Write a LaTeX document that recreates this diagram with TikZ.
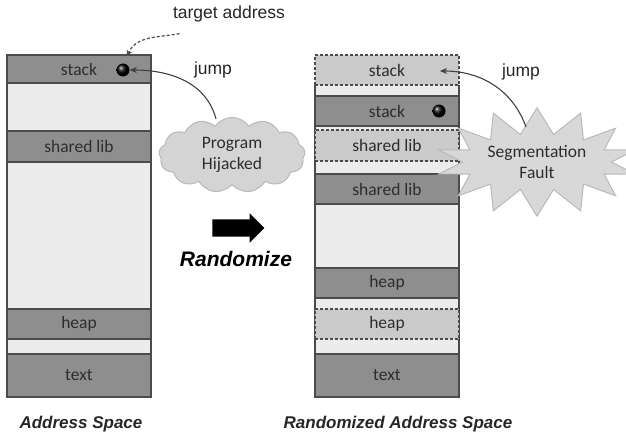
\documentclass[tikz,border=0pt]{standalone}
\usepackage{fontspec}
\setmainfont{Carlito}
\newfontfamily\arialfont{Liberation Sans}
\usepackage{tikz}
\usetikzlibrary{arrows.meta,shapes.symbols,shapes.arrows}
\definecolor{segdark}{RGB}{142,142,142}
\definecolor{seglight}{RGB}{236,236,236}
\definecolor{segmoved}{RGB}{202,202,202}
\definecolor{segline}{RGB}{75,75,75}
\definecolor{segtext}{RGB}{45,45,45}
\definecolor{cloudgray}{RGB}{212,212,212}
\definecolor{cloudline}{RGB}{185,185,185}

\begin{document}
\begin{tikzpicture}[x=1pt,y=-1pt,
  col/.style={fill=seglight, draw=segline, line width=1.2pt, anchor=north west,
    minimum width=144pt, minimum height=342pt, inner sep=0pt, outer sep=0pt},
  seg/.style={draw=segline, line width=1.2pt, anchor=north west, minimum width=144pt,
    inner sep=0pt, outer sep=0pt, text=segtext, font=\fontsize{17.5}{19}\selectfont},
  used/.style={seg, fill=segdark},
  moved/.style={seg, fill=segmoved, dash pattern=on 3pt off 2pt},
  dot/.style={circle, shade, ball color=black, minimum size=13pt, inner sep=0pt},
  note/.style={font=\arialfont\fontsize{17.5}{19}\selectfont, text=black!85},
  caption/.style={font=\arialfont\bfseries\itshape\fontsize{17}{19}\selectfont, text=black!85},
  jumparrow/.style={draw=black!75, line width=1.1pt, -{Stealth[length=7pt,width=6pt]}}]
  \useasboundingbox (0,0) rectangle (626,436);
  % original layout
  \node[col] (colL) at (7,55) {};
  \node[used, minimum height=28pt] (stackL) at (7,55) {stack};
  \node[used, minimum height=31pt] (libL) at (7,131) {shared lib};
  \node[used, minimum height=30pt] (heapL) at (7,309) {heap};
  \node[used, minimum height=43pt] (textL) at (7,354) {text};
  \node[dot] (dotL) at (123,70) {};
  % randomized layout
  \node[col, draw=none] (colR) at (315,55) {};
  \draw[segline, line width=1.2pt] ([yshift=-30pt]colR.north west) -- (colR.south west)
    -- (colR.south east) -- ([yshift=-30pt]colR.north east);
  \node[moved, minimum height=30pt] (stackOld) at (315,55) {stack};
  \node[used, minimum height=30pt] (stackR) at (315,96) {stack};
  \node[moved, minimum height=31pt] (libOld) at (315,130) {shared lib};
  \node[used, minimum height=30pt] (libR) at (315,174) {shared lib};
  \node[used, minimum height=30pt] (heapR) at (315,268) {heap};
  \node[moved, minimum height=30pt] (heapOld) at (315,309) {heap};
  \node[used, minimum height=43pt] (textR) at (315,354) {text};
  \node[dot] (dotR) at (439,111) {};
  \coordinate (oldslot) at (440,71);
  % attack
  \node[note] (target) at (229,14) {target address};
  \coordinate (hit) at (127,56);
  \draw[draw=black!70, line width=1.2pt, dash pattern=on 3pt off 2pt, -{Stealth[length=6pt,width=6pt]}]
    ([xshift=10pt,yshift=-8pt]target.south west) to[out=190, in=65] (hit);
  \node[cloud, cloud puffs=13, cloud puff arc=110, aspect=2.4, fill=cloudgray, draw=cloudline,
    line width=1pt, minimum width=146pt, minimum height=72pt, align=center, text=segtext,
    font=\fontsize{17.5}{21}\selectfont] (hijack) at (232,155) {Program\\Hijacked};
  \draw[jumparrow] ([xshift=-16pt,yshift=-2pt]hijack.north) to[out=105, in=0] (dotL.east);
  \node[note] (jumpL) at (213,70) {jump};
  % randomize step
  \node[single arrow, fill=black, inner xsep=0pt, inner ysep=8.5pt, minimum height=52pt,
    single arrow head extend=6pt] (shift) at (234,228) {};
  \node[font=\arialfont\bfseries\itshape\fontsize{21}{23}\selectfont] (randlabel) at (236,259) {Randomize};
  % failed jump
  \node[starburst, starburst points=14, starburst point height=26pt, random starburst=0,
    fill=cloudgray!90!white, draw=cloudline, line width=1pt, minimum width=176pt,
    minimum height=102pt, align=center, text=segtext, font=\fontsize{17.5}{21}\selectfont]
    (segfault) at (537,162) {Segmentation\\Fault};
  \draw[jumparrow] ([xshift=-11pt,yshift=-20pt]segfault.north) to[out=110, in=0] (oldslot);
  \node[note] (jumpR) at (521,72) {jump};
  % captions
  \node[caption] (capL) at (81,424) {Address Space};
  \node[caption] (capR) at (398,424) {Randomized Address Space};
\end{tikzpicture}
\end{document}
